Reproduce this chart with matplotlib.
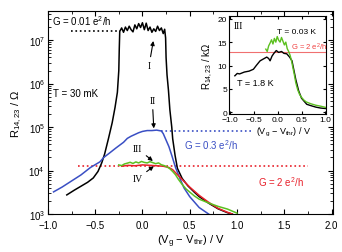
import numpy as np
import matplotlib
matplotlib.use("Agg")
import matplotlib.pyplot as plt
from matplotlib.ticker import MultipleLocator, LogLocator, NullFormatter

plt.rcParams['font.family'] = ['Liberation Sans', 'DejaVu Sans']
plt.rcParams['mathtext.default'] = 'regular'
plt.rcParams['font.size'] = 7

# curve I, 30 mK, log10(R / Ohm)
x_black = [-0.80, -0.72, -0.65, -0.58, -0.52, -0.47, -0.43, -0.40, -0.36, -0.32,
           -0.29, -0.265, -0.25, -0.245, -0.24, -0.22, -0.20, -0.18, -0.16, -0.14,
           -0.12, -0.10, -0.08, -0.06, -0.04, -0.02, 0.00, 0.02, 0.04, 0.06,
           0.08, 0.10, 0.12, 0.14, 0.16, 0.18, 0.20, 0.22, 0.235, 0.245,
           0.25, 0.26, 0.275, 0.29, 0.31, 0.32, 0.345, 0.37, 0.42, 0.48,
           0.55, 0.60, 0.70, 0.80, 0.90, 0.95]
lg_black = [3.44, 3.55, 3.64, 3.73, 3.83, 3.98, 4.18, 4.38, 4.73, 5.10,
            5.45, 5.80, 6.30, 6.80, 7.20, 7.28, 7.18, 7.30, 7.22, 7.32,
            7.24, 7.19, 7.35, 7.26, 7.38, 7.29, 7.40, 7.24, 7.39, 7.22,
            7.30, 7.18, 7.26, 7.20, 7.32, 7.22, 7.28, 7.15, 7.25, 7.05,
            6.60, 6.20, 5.85, 5.40, 5.00, 4.73, 4.35, 4.05, 3.82, 3.65,
            3.50, 3.40, 3.25, 3.12, 3.03, 3.00]

# curve II
x_blue = [-0.94, -0.85, -0.75, -0.65, -0.55, -0.45, -0.41, -0.35, -0.28, -0.20,
          -0.16, -0.12, -0.08, -0.04, 0.00, 0.05, 0.10, 0.15, 0.20, 0.22,
          0.25, 0.28, 0.31, 0.35, 0.40, 0.44, 0.50, 0.60, 0.70, 0.72]
lg_blue = [3.51, 3.62, 3.76, 3.90, 4.07, 4.20, 4.30, 4.40, 4.52, 4.65,
           4.74, 4.79, 4.83, 4.87, 4.90, 4.92, 4.92, 4.93, 4.91, 4.85,
           4.70, 4.55, 4.35, 4.07, 3.80, 3.60, 3.40, 3.15, 3.00, 2.97]

# curve III (0.03 K), R in kOhm, used in main plot and inset
x_green = [-0.25, -0.22, -0.19, -0.16, -0.13, -0.10, -0.07, -0.04, -0.01, 0.02,
           0.05, 0.08, 0.11, 0.14, 0.17, 0.20, 0.23, 0.26, 0.29, 0.32,
           0.35, 0.38, 0.42, 0.46, 0.50, 0.55, 0.60, 0.70, 0.80, 0.90, 1.00]
r_green = [13.5, 13.0, 14.2, 14.8, 15.5, 14.6, 15.8, 15.0, 16.2, 15.4,
           15.0, 16.0, 15.2, 14.4, 15.0, 13.6, 13.0, 12.2, 11.0, 9.5,
           8.0, 6.3, 4.8, 3.8, 3.2, 2.6, 2.2, 1.8, 1.5, 1.3, 1.05]

# curve IV
x_red = [-0.22, -0.15, -0.08, 0.00, 0.08, 0.15, 0.22, 0.28, 0.32, 0.35,
         0.40, 0.50, 0.60, 0.70, 0.80, 0.90, 0.95]
lg_red = [4.10, 4.12, 4.11, 4.13, 4.12, 4.11, 4.10, 4.07, 4.02, 3.95,
          3.84, 3.62, 3.43, 3.27, 3.13, 3.04, 3.00]

# inset, 1.8 K, R in kOhm
x_warm = [-0.90, -0.85, -0.80, -0.70, -0.60, -0.51, -0.45, -0.37, -0.30, -0.23,
          -0.19, -0.16, -0.12, -0.08, -0.03, 0.02, 0.08, 0.13, 0.19, 0.25,
          0.30, 0.34, 0.38, 0.44, 0.50, 0.61, 0.70, 0.80, 0.90, 1.00]
r_warm = [7.8, 8.3, 8.2, 8.6, 8.8, 9.2, 10.0, 11.0, 11.4, 11.8,
          11.5, 11.0, 12.0, 12.6, 13.2, 12.8, 13.0, 12.6, 12.5, 11.8,
          11.0, 9.0, 7.0, 4.6, 3.0, 1.7, 1.4, 1.1, 0.9, 0.8]

r_01 = 10 ** 7.22        # G = 0.01 e2/h line
r_03 = 10 ** 4.92        # G = 0.3 e2/h
r_2 = 12.9e3             # G = 2 e2/h

fig = plt.figure(figsize=(3.42, 2.53), dpi=100)
ax = fig.add_axes([0.140, 0.150, 0.835, 0.803])

ax.plot([-0.76, -0.24], [r_01, r_01], ls=':', color='k', lw=1.2)
ax.plot([0.2, 1.15], [r_03, r_03], ls=':', color='#3a4fc4', lw=1.2)
ax.plot([-0.68, 1.75], [r_2, r_2], ls=':', color='#e8202a', lw=1.2)

ax.plot(x_black, 10 ** np.array(lg_black), color='k', lw=1.1)
ax.plot(x_blue, 10 ** np.array(lg_blue), color='#3a4fc4', lw=1.1)
ax.plot(x_red, 10 ** np.array(lg_red), color='#e8202a', lw=1.1)
ax.plot(x_green, np.array(r_green) * 1e3, color='#5cc020', lw=1.1)

ax.set_yscale('log')
ax.set_xlim(-1.0, 2.02)
ax.set_ylim(1e3, 4.7e7)
ax.xaxis.set_major_locator(MultipleLocator(0.5))
ax.xaxis.set_minor_locator(MultipleLocator(0.25))
ax.yaxis.set_major_locator(LogLocator(base=10, numticks=10))
ax.yaxis.set_minor_locator(LogLocator(base=10, subs=np.arange(2, 10), numticks=20))
ax.yaxis.set_minor_formatter(NullFormatter())
ax.xaxis.set_major_formatter(plt.FuncFormatter(lambda v, p: f"{v:.1f}".replace('-', '\u2212')))
ax.tick_params(which='both', direction='in', top=True, right=True, labelsize=7, pad=2)
ax.tick_params(axis='x', which='major', pad=4.5)
ax.tick_params(which='major', length=3.5)
ax.tick_params(which='minor', length=2)
ax.set_xlabel('(V$_g$ \u2212 V$_{thr}$) / V', fontsize=8, labelpad=2)
ax.set_ylabel('R$_{14,23}$ / \u03a9', fontsize=8, labelpad=3)

ax.text(-0.96, 2.9e7, 'G = 0.01 e$^2$/h', fontsize=7, va='center')
ax.text(-0.95, 6.0e5, 'T = 30 mK', fontsize=7, va='center')
ax.text(0.44, 4.0e4, 'G = 0.3 e$^2$/h', fontsize=7, color='#3a4fc4', va='center')
ax.text(1.22, 5.6e3, 'G = 2 e$^2$/h', fontsize=7, color='#e8202a', va='center')

serif = dict(family=['Liberation Serif', 'DejaVu Serif'], fontsize=7, ha='center', va='center')
arrow = dict(arrowstyle='-|>', color='k', lw=0.8, mutation_scale=6, shrinkA=1, shrinkB=0)
ax.annotate('I', xy=(0.115, 10 ** 6.98), xytext=(0.07, 10 ** 6.42), arrowprops=arrow, **serif)
ax.annotate('II', xy=(0.12, 10 ** 4.97), xytext=(0.105, 10 ** 5.6), arrowprops=arrow, **serif)
ax.annotate('III', xy=(0.11, 10 ** 4.22), xytext=(-0.05, 10 ** 4.5), arrowprops=arrow, **serif)
ax.annotate('IV', xy=(0.12, 10 ** 4.1), xytext=(-0.05, 10 ** 3.82), arrowprops=arrow, **serif)

# inset
ins = fig.add_axes([0.670, 0.545, 0.284, 0.388])
ins.axhline(r_2 / 1e3, color='#f07070', lw=0.8)
ins.plot(x_warm, r_warm, color='k', lw=1.0)
ins.plot(x_green, r_green, color='#5cc020', lw=1.0)
ins.set_xlim(-1.02, 1.02)
ins.set_ylim(-0.4, 20.6)
ins.xaxis.set_major_locator(MultipleLocator(0.5))
ins.yaxis.set_major_locator(MultipleLocator(5))
ins.xaxis.set_major_formatter(plt.FuncFormatter(lambda v, p: f"{v:.1f}".replace('-', '\u2212')))
ins.tick_params(direction='in', top=True, right=True, labelsize=6, length=2.5, pad=1.5)
ins.set_ylabel('R$_{14,23}$ / k\u03a9', fontsize=7, labelpad=2)
ins.text(-0.93, 18.6, 'III', family=['Liberation Serif', 'DejaVu Serif'], fontsize=7, va='center')
ins.text(-0.02, 17.2, 'T = 0.03 K', fontsize=6, va='center')
ins.text(0.28, 14.0, 'G = 2 e$^2$/h', fontsize=5.5, color='#f04040', va='center')
ins.text(-0.85, 6.3, 'T = 1.8 K', fontsize=6.5, va='center')
fig.text(0.748, 0.478, '(V$_g$ \u2212 V$_{thr}$) / V', fontsize=6.5, va='center')

fig.savefig('out.png', dpi=100)
